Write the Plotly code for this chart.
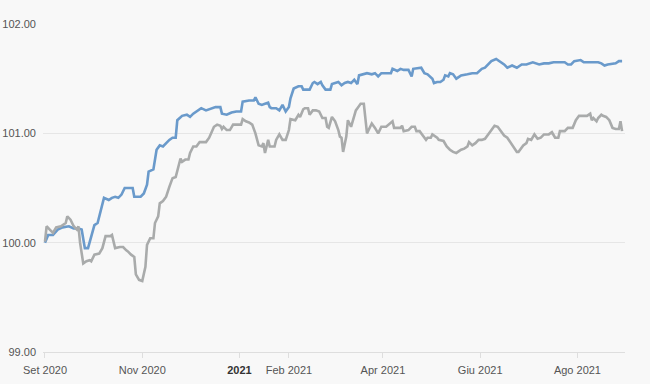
import pandas as pd
import plotly.graph_objects as go

# ---------------- data ----------------
START_DATE = "2020-09-01"   # day 0 of both series

blue_days = [
    0, 2, 5, 8, 11, 15, 18, 21, 23, 25,
    27, 28, 30, 31, 33, 36, 37, 40, 42, 44,
    46, 48, 50, 52, 55, 56, 60, 62, 64, 65,
    68, 70, 72, 74, 76, 78, 80, 82, 83, 86,
    89, 91, 93, 96, 98, 101, 105, 107, 110, 111,
    114, 117, 120, 123, 124, 128, 131, 132, 134, 136,
    138, 140, 141, 142, 145, 147, 149, 151, 153, 154,
    156, 159, 161, 162, 166, 168, 169, 171, 173, 174,
    176, 179, 180, 182, 184, 186, 188, 190, 192, 194,
    196, 197, 199, 202, 205, 207, 209, 211, 214, 217,
    218, 221, 223, 225, 228, 230, 231, 234, 236, 238,
    240, 243, 244, 246, 248, 250, 251, 253, 254, 256,
    258, 259, 261, 265, 268, 271, 274, 276, 278, 280,
    283, 285, 288, 290, 293, 296, 299, 302, 306, 310,
    313, 316, 319, 322, 326, 328, 330, 332, 336, 338,
    341, 344, 347, 349, 351, 353, 356, 358, 360, 362,
]
blue_values = [
    100.00, 100.07, 100.07, 100.12, 100.14, 100.15, 100.13, 100.13, 100.12, 99.95,
    99.95, 100.00, 100.09, 100.16, 100.18, 100.36, 100.41, 100.39, 100.41, 100.42,
    100.41, 100.44, 100.50, 100.50, 100.50, 100.42, 100.42, 100.45, 100.53, 100.65,
    100.67, 100.85, 100.89, 100.88, 100.91, 100.94, 100.96, 100.96, 101.12, 101.16,
    101.17, 101.15, 101.18, 101.21, 101.23, 101.21, 101.23, 101.24, 101.24, 101.18,
    101.17, 101.19, 101.20, 101.20, 101.29, 101.30, 101.30, 101.33, 101.27, 101.26,
    101.27, 101.28, 101.24, 101.23, 101.23, 101.21, 101.26, 101.20, 101.24, 101.32,
    101.41, 101.43, 101.43, 101.40, 101.40, 101.46, 101.47, 101.45, 101.47, 101.44,
    101.40, 101.40, 101.45, 101.46, 101.47, 101.44, 101.46, 101.47, 101.46, 101.49,
    101.45, 101.53, 101.54, 101.55, 101.54, 101.55, 101.52, 101.55, 101.55, 101.55,
    101.59, 101.57, 101.59, 101.58, 101.58, 101.52, 101.59, 101.60, 101.60, 101.55,
    101.54, 101.50, 101.46, 101.47, 101.47, 101.49, 101.53, 101.52, 101.55, 101.54,
    101.50, 101.51, 101.53, 101.54, 101.55, 101.55, 101.59, 101.60, 101.63, 101.66,
    101.68, 101.66, 101.63, 101.60, 101.62, 101.60, 101.63, 101.63, 101.65, 101.63,
    101.64, 101.64, 101.65, 101.65, 101.65, 101.63, 101.63, 101.66, 101.67, 101.65,
    101.65, 101.65, 101.65, 101.64, 101.62, 101.63, 101.64, 101.64, 101.66, 101.66,
]

gray_days = [
    0, 1, 3, 5, 7, 10, 13, 14, 16, 18,
    20, 21, 22, 23, 24, 26, 28, 29, 31, 34,
    36, 38, 41, 42, 44, 47, 49, 51, 52, 54,
    56, 57, 59, 61, 63, 64, 66, 68, 69, 71,
    72, 74, 76, 78, 80, 82, 84, 85, 86, 88,
    90, 91, 93, 95, 97, 99, 101, 103, 106, 108,
    110, 111, 112, 114, 116, 118, 121, 123, 124, 126,
    128, 130, 132, 134, 136, 137, 138, 140, 141, 144,
    145, 147, 149, 151, 153, 154, 157, 159, 160, 162,
    163, 165, 166, 168, 170, 172, 174, 176, 177, 178,
    180, 182, 184, 185, 186, 187, 189, 190, 192, 195,
    196, 198, 200, 202, 203, 205, 207, 209, 211, 214,
    218, 219, 223, 224, 225, 228, 230, 232, 233, 235,
    237, 239, 240, 242, 243, 246, 247, 250, 252, 254,
    256, 258, 259, 261, 263, 265, 266, 268, 270, 272,
    274, 276, 278, 280, 282, 284, 286, 288, 290, 292,
    294, 296, 297, 299, 300, 302, 303, 305, 307, 309,
    311, 313, 316, 318, 320, 322, 323, 326, 328, 331,
    333, 335, 338, 340, 342, 343, 344, 346, 347, 349,
    350, 352, 354, 356, 358, 360, 361, 362,
]
gray_values = [
    100.01, 100.15, 100.12, 100.09, 100.14, 100.15, 100.18, 100.24, 100.21, 100.15,
    100.12, 100.15, 100.00, 99.89, 99.81, 99.83, 99.84, 99.83, 99.89, 99.90,
    99.95, 100.06, 100.06, 100.07, 99.95, 99.96, 99.96, 99.93, 99.92, 99.89,
    99.87, 99.71, 99.66, 99.65, 99.78, 99.98, 100.04, 100.04, 100.18, 100.24,
    100.36, 100.38, 100.42, 100.51, 100.59, 100.60, 100.73, 100.77, 100.74, 100.76,
    100.76, 100.82, 100.88, 100.88, 100.92, 100.92, 100.92, 100.96, 101.06, 101.08,
    101.07, 101.04, 101.06, 101.03, 101.03, 101.08, 101.08, 101.08, 101.13, 101.11,
    101.10, 101.08, 101.00, 100.89, 100.88, 100.91, 100.82, 100.94, 100.88, 100.88,
    100.94, 100.99, 100.94, 100.94, 101.03, 101.13, 101.12, 101.17, 101.15, 101.22,
    101.23, 101.23, 101.17, 101.21, 101.21, 101.20, 101.14, 101.14, 101.06, 101.05,
    101.15, 101.11, 101.03, 100.97, 100.96, 100.83, 100.97, 101.12, 101.06, 101.21,
    101.23, 101.27, 101.27, 101.00, 101.03, 101.09, 101.05, 101.00, 101.06, 101.06,
    101.11, 101.05, 101.05, 101.07, 101.02, 101.03, 101.06, 101.06, 101.02, 101.02,
    100.98, 100.94, 100.96, 100.96, 100.99, 100.96, 100.94, 100.93, 100.88, 100.85,
    100.83, 100.82, 100.83, 100.85, 100.86, 100.88, 100.92, 100.89, 100.91, 100.94,
    100.94, 100.95, 100.99, 101.03, 101.07, 101.06, 101.02, 100.98, 100.96, 100.92,
    100.88, 100.83, 100.83, 100.87, 100.89, 100.91, 100.95, 100.94, 100.99, 100.95,
    100.96, 100.99, 100.99, 101.01, 100.96, 100.96, 101.02, 101.02, 101.05, 101.05,
    101.12, 101.16, 101.16, 101.16, 101.18, 101.12, 101.14, 101.11, 101.14, 101.17,
    101.16, 101.15, 101.12, 101.05, 101.04, 101.04, 101.11, 101.02,
]

tick_dates = ["2020-09-01", "2020-11-01", "2021-01-01", "2021-02-01",
              "2021-04-01", "2021-06-01", "2021-08-01"]
tick_labels = ["Set 2020", "Nov 2020", "<span style='color:#333333'><b>2021</b></span>",
               "Feb 2021", "Apr 2021", "Giu 2021", "Ago 2021"]
y_ticks = [99, 100, 101, 102]
x_range = ["2020-08-30 18:00", "2021-08-30 20:00"]
y_range = [99, 102]

assert len(blue_days) == len(blue_values)
assert len(gray_days) == len(gray_values)

start = pd.Timestamp(START_DATE)
blue_x = start + pd.to_timedelta(blue_days, unit="D")
gray_x = start + pd.to_timedelta(gray_days, unit="D")

# ---------------- figure ----------------
BG = "#f8f8f8"
GRID = "#e6e6e6"
FONT = "Liberation Sans, Arial, sans-serif"

fig = go.Figure()
fig.add_trace(go.Scatter(x=blue_x, y=blue_values, mode="lines",
                         line=dict(color="#6a9acb", width=2.6),
                         hoverinfo="skip", showlegend=False))
fig.add_trace(go.Scatter(x=gray_x, y=gray_values, mode="lines",
                         line=dict(color="#a9abab", width=2.6),
                         hoverinfo="skip", showlegend=False))

fig.update_layout(
    width=650, height=384,
    margin=dict(l=43, r=25, t=24, b=32, pad=0),
    paper_bgcolor=BG, plot_bgcolor=BG,
    font=dict(family=FONT, size=11, color="#555555"),
    showlegend=False,
    xaxis=dict(
        type="date", range=x_range,
        tickvals=tick_dates, ticktext=tick_labels,
        showgrid=False, zeroline=False,
        showline=True, linecolor="#dedede", linewidth=1,
        ticks="outside", ticklen=5, tickcolor="#dedede", tickwidth=1,
        ticklabelstandoff=3,
        tickfont=dict(family=FONT, size=11, color="#555555"),
        automargin=False,
        fixedrange=True,
    ),
    yaxis=dict(
        range=y_range, tickvals=y_ticks, tickformat=".2f",
        showgrid=True, gridcolor=GRID, gridwidth=1,
        zeroline=False, showline=False, ticks="",
        ticklabelstandoff=6,
        tickfont=dict(family=FONT, size=11, color="#555555"),
        automargin=False,
        fixedrange=True,
    ),
)

fig.write_html("out.html", config={"displayModeBar": False},
               post_script="document.body.style.margin='0';")
